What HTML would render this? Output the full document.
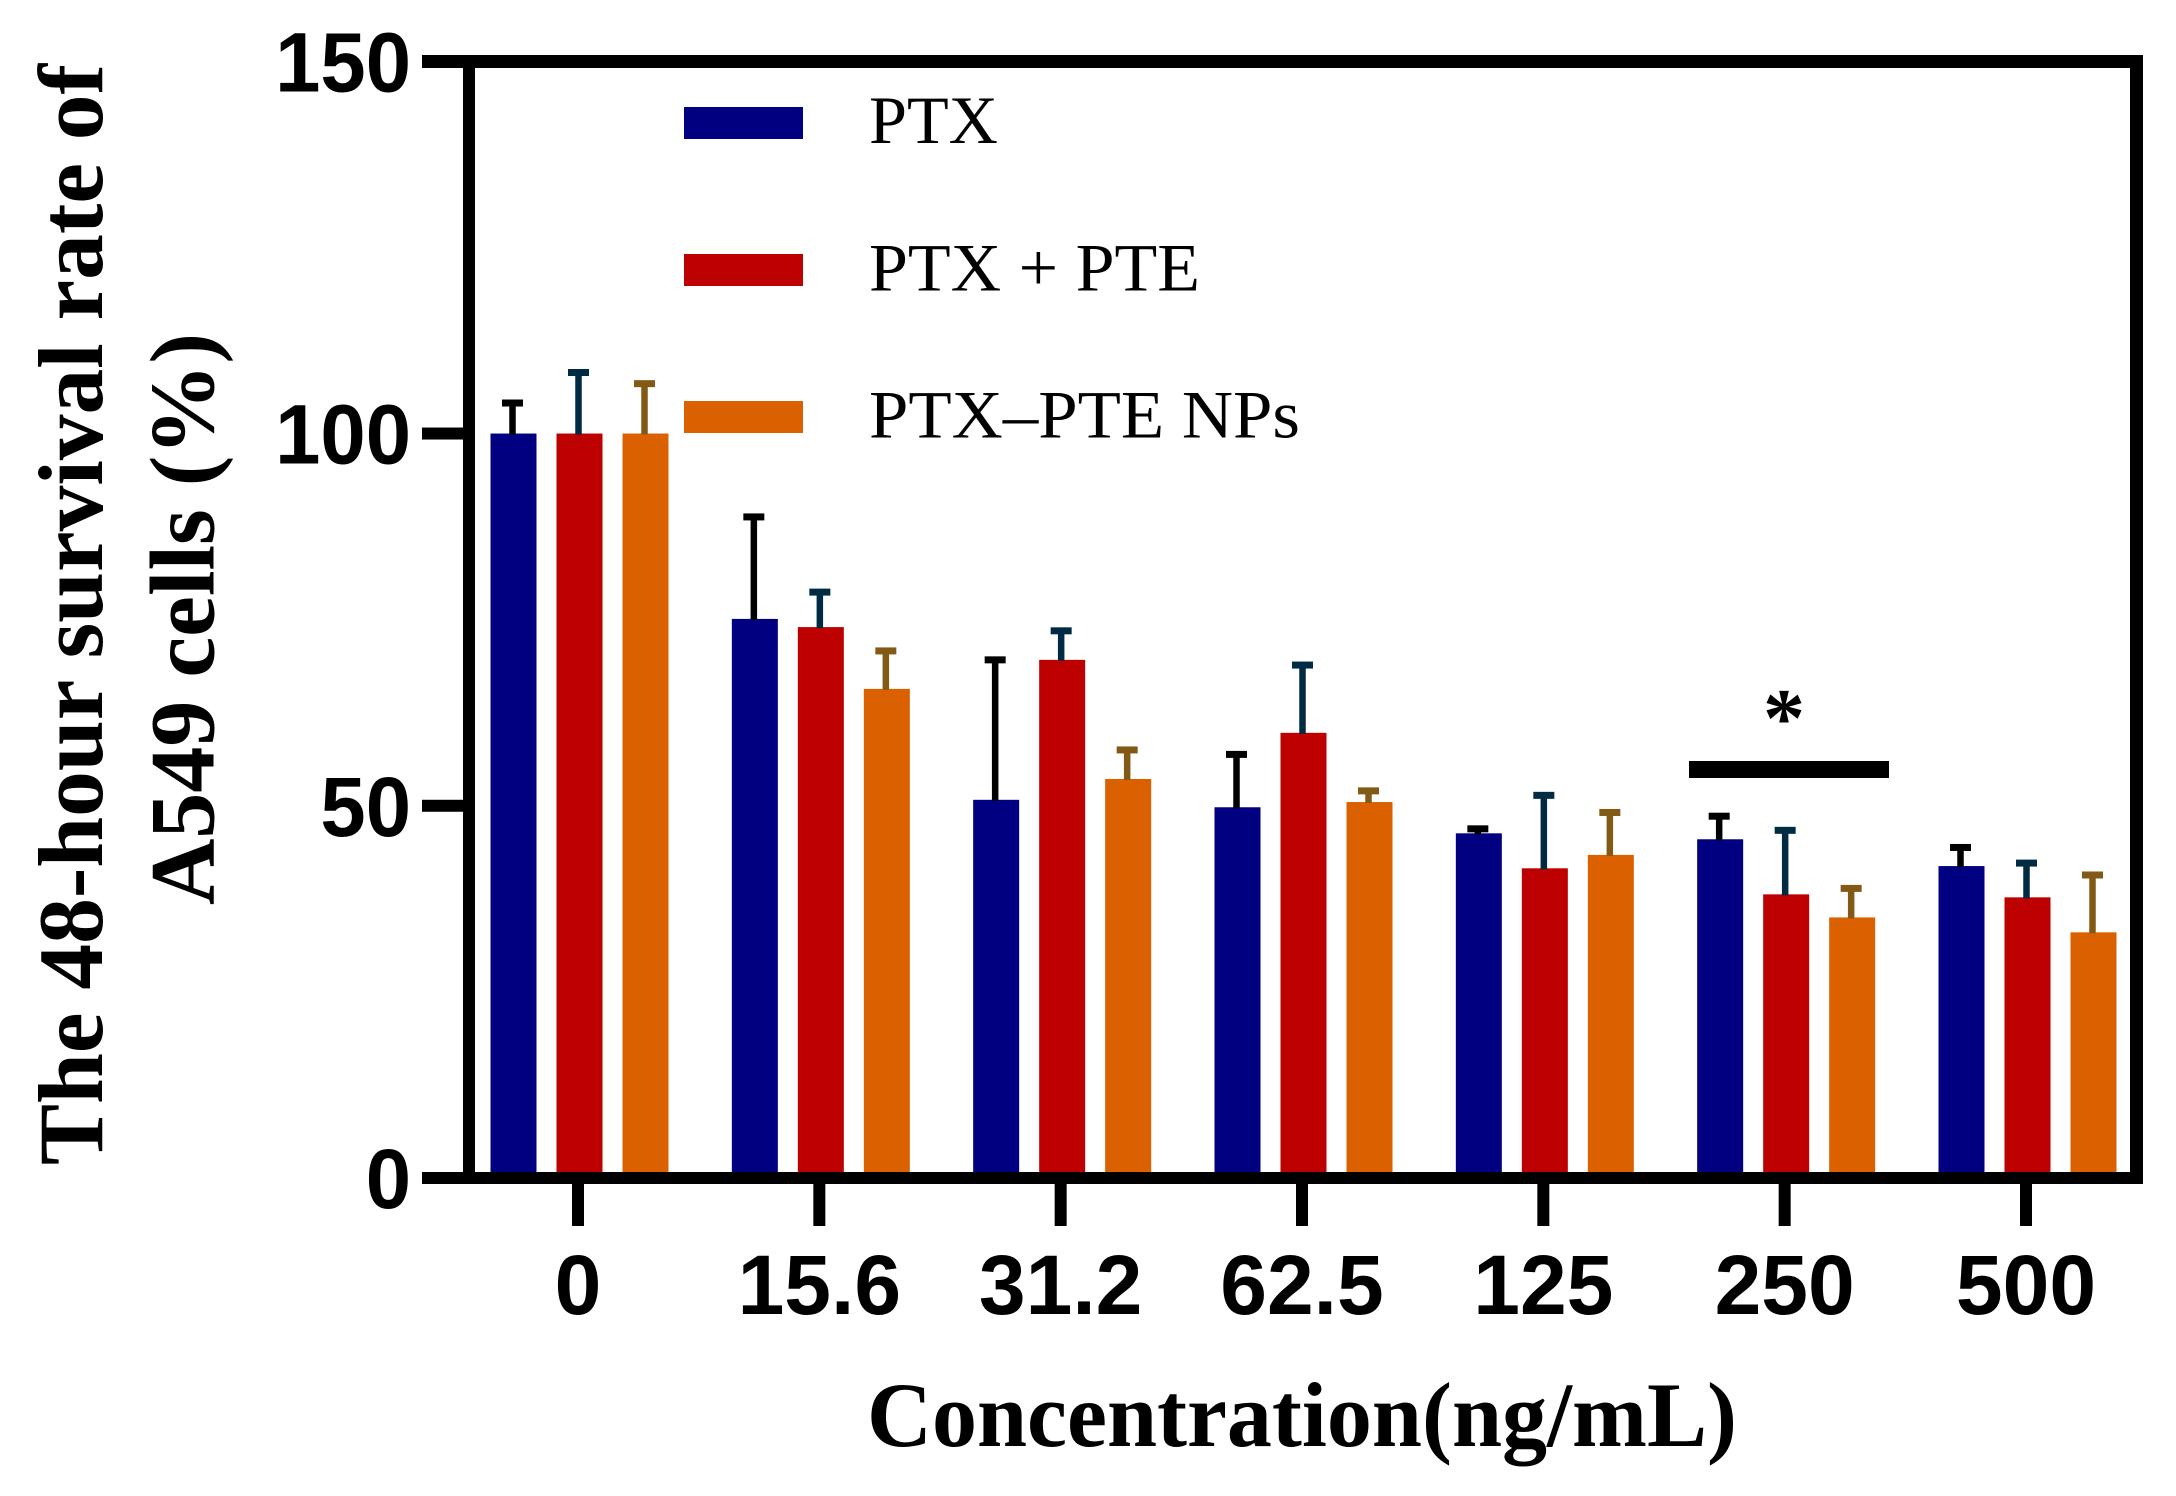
<!DOCTYPE html>
<html lang="en">
<head>
<meta charset="utf-8">
<title>48-hour survival rate of A549 cells</title>
<style>
html,body{margin:0;padding:0;background:#fff;}
svg{display:block;}
text{fill:#000;}
.tick{font-family:"Liberation Sans",sans-serif;font-weight:700;font-size:84px;}
.title{font-family:"Liberation Serif",serif;font-weight:700;font-size:92px;}
.legend{font-family:"Liberation Serif",serif;font-size:68px;}
</style>
</head>
<body>
<svg id="chart" xmlns="http://www.w3.org/2000/svg" width="2176" height="1496" viewBox="0 0 2176 1496">
  <rect x="0" y="0" width="2176" height="1496" fill="#fff"/>
  <g id="bars"></g>
  <g id="errors"></g>
  <g id="axes">
    <rect x="422" y="55" width="1721" height="13" fill="#000"/>
    <rect x="463" y="55" width="12" height="1129" fill="#000"/>
    <rect x="2130" y="55" width="13" height="1129" fill="#000"/>
    <rect x="422" y="1172" width="1721" height="12" fill="#000"/>
  </g>
  <g id="yticks"></g>
  <g id="xticks"></g>
  <g>
    <g>
      <rect x="684" y="107" width="119" height="32" fill="#000080"/>
      <text class="legend" x="869" y="143" textLength="129" lengthAdjust="spacingAndGlyphs">PTX</text>
    </g>
    <g>
      <rect x="684" y="254" width="119" height="32" fill="#BD0000"/>
      <text class="legend" x="869" y="290.5" textLength="331" lengthAdjust="spacingAndGlyphs">PTX + PTE</text>
    </g>
    <g>
      <rect x="684" y="401" width="119" height="32" fill="#DB6100"/>
      <text class="legend" x="869" y="437.5" textLength="431" lengthAdjust="spacingAndGlyphs">PTX–PTE NPs</text>
    </g>
  </g>
  <g>
    <rect x="1689" y="761" width="200" height="17" fill="#000"/>
    <text x="1784" y="746" text-anchor="middle" style="font-family:'Liberation Serif',serif;font-weight:700;font-size:84px;">*</text>
  </g>
  <text class="title" x="867" y="1446" textLength="870" lengthAdjust="spacingAndGlyphs">Concentration(ng/mL)</text>
  <g>
    <text class="title" transform="translate(102,1165) rotate(-90)" x="0" y="0" textLength="1101" lengthAdjust="spacingAndGlyphs">The 48-hour survival rate of</text>
    <text class="title" transform="translate(213.5,905) rotate(-90)" x="0" y="0" textLength="572" lengthAdjust="spacingAndGlyphs">A549 cells (%)</text>
  </g>
</svg>
<script>
const categories = ["0", "15.6", "31.2", "62.5", "125", "250", "500"];
const yTickValues = [0, 50, 100, 150];
const seriesNames = ["ptx", "ptx-pte", "ptx-pte-nps"];
const ptxMeans = [100, 75.1, 50.8, 49.8, 46.3, 45.5, 41.9];
const ptxPteMeans = [100, 74.0, 69.6, 59.8, 41.6, 38.1, 37.7];
const ptxPteNpsMeans = [100, 65.7, 53.6, 50.5, 43.4, 35.0, 33.0];
const ptxErrors = [4.1, 13.7, 18.8, 7.1, 0.6, 3.1, 2.5];
const ptxPteErrors = [8.2, 4.7, 3.9, 9.1, 9.8, 8.6, 4.6];
const ptxPteNpsErrors = [6.7, 5.1, 3.9, 1.5, 5.7, 3.9, 7.7];

const seriesMeans = [ptxMeans, ptxPteMeans, ptxPteNpsMeans];
const seriesErrors = [ptxErrors, ptxPteErrors, ptxPteNpsErrors];
const barColors = ["#000080", "#BD0000", "#DB6100"];
const errorColors = ["#000000", "#002B43", "#835A15"];

const SVG_NS = "http://www.w3.org/2000/svg";
const barsLayer = document.getElementById("bars");
const errorsLayer = document.getElementById("errors");
const yTicksLayer = document.getElementById("yticks");
const xTicksLayer = document.getElementById("xticks");

function yScale(v) {
  return 1178 - v * (1178 - 61.3) / 150;
}
function xScale(i) {
  return 578 + i * (2026 - 578) / (categories.length - 1);
}
function makeRect(x, y, w, h, fill) {
  const r = document.createElementNS(SVG_NS, "rect");
  r.setAttribute("x", x);
  r.setAttribute("y", y);
  r.setAttribute("width", w);
  r.setAttribute("height", h);
  r.setAttribute("fill", fill);
  return r;
}

const barWidth = 46;
const barPitch = 66;
const errLineWidth = 6.5;
const capWidth = 21;
const capHeight = 7;

categories.forEach(function (cat, i) {
  seriesMeans.forEach(function (means, s) {
    const cx = xScale(i) + 1.5 + (s - 1) * barPitch;
    const top = yScale(means[i]);
    const bar = makeRect(cx - barWidth / 2, top, barWidth, yScale(0) - top, barColors[s]);
    
    
    barsLayer.appendChild(bar);

    const errTop = yScale(means[i] + seriesErrors[s][i]);
    const ex = cx - 1;
    const stem = makeRect(ex - errLineWidth / 2, errTop, errLineWidth, top - errTop + 1, errorColors[s]);
    
    
    errorsLayer.appendChild(stem);

    const cap = makeRect(ex - capWidth / 2, errTop - capHeight / 2, capWidth, capHeight, errorColors[s]);
    
    
    errorsLayer.appendChild(cap);
  });

  const tick = makeRect(xScale(i) - 6, 1184, 12, 42, "#000");
  
  
  xTicksLayer.appendChild(tick);

  const label = document.createElementNS(SVG_NS, "text");
  label.setAttribute("class", "tick");
  label.setAttribute("x", xScale(i));
  label.setAttribute("y", 1314);
  label.setAttribute("text-anchor", "middle");
  
  
  label.textContent = cat;
  xTicksLayer.appendChild(label);
});

yTickValues.forEach(function (v) {
  const tick = makeRect(422, yScale(v) - 6, 41, 12, "#000");
  
  
  yTicksLayer.appendChild(tick);

  const text = String(v);
  const label = document.createElementNS(SVG_NS, "text");
  label.setAttribute("class", "tick");
  label.setAttribute("x", 411);
  label.setAttribute("y", yScale(v) + 30);
  label.setAttribute("text-anchor", "end");
  label.setAttribute("textLength", text.length * 45.3);
  label.setAttribute("lengthAdjust", "spacingAndGlyphs");
  
  
  label.textContent = text;
  yTicksLayer.appendChild(label);
});
</script>
</body>
</html>
